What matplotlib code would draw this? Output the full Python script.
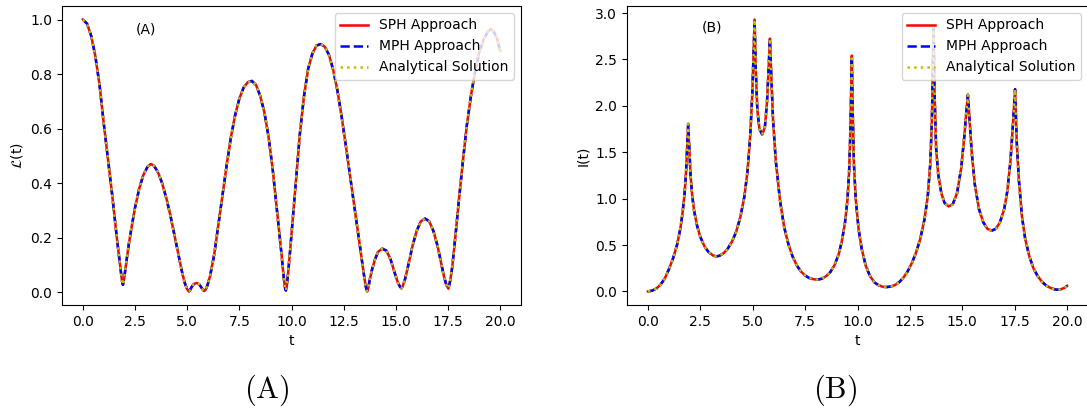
import matplotlib

matplotlib.use("Agg")
import matplotlib.pyplot as plt

# time samples (denser around the dips of the echo / spikes of the rate)
time = [
    0.0, 0.2, 0.4, 0.6, 0.8, 1.0, 1.2, 1.4, 1.55, 1.65, 1.75, 1.82, 1.87, 1.92,
    1.97, 2.03, 2.1, 2.2, 2.35, 2.5, 2.7, 2.9, 3.1, 3.25, 3.4, 3.6, 3.8, 4.0,
    4.2, 4.4, 4.6, 4.75, 4.88, 4.98, 5.05, 5.09, 5.14, 5.22, 5.32, 5.45, 5.58,
    5.68, 5.76, 5.82, 5.88, 5.97, 6.1, 6.3, 6.5, 6.7, 6.9, 7.1, 7.3, 7.5, 7.7,
    7.9, 8.1, 8.3, 8.5, 8.7, 8.9, 9.1, 9.25, 9.4, 9.52, 9.6, 9.66, 9.7, 9.73,
    9.77, 9.83, 9.92, 10.05, 10.2, 10.4, 10.6, 10.8, 11.0, 11.2, 11.4, 11.6,
    11.8, 12.0, 12.2, 12.4, 12.6, 12.8, 13.0, 13.2, 13.35, 13.47, 13.55, 13.6,
    13.63, 13.67, 13.75, 13.85, 14.0, 14.15, 14.35, 14.55, 14.75, 14.95, 15.1,
    15.2, 15.27, 15.33, 15.45, 15.6, 15.8, 16.0, 16.2, 16.4, 16.6, 16.8, 17.0,
    17.15, 17.3, 17.42, 17.52, 17.6, 17.7, 17.85, 18.0, 18.2, 18.4, 18.6, 18.8,
    19.0, 19.2, 19.4, 19.55, 19.7, 19.85, 20.0,
]

# Loschmidt echo L(t)
echo = [
    1.0, 0.985, 0.94, 0.865, 0.76, 0.62, 0.49, 0.36, 0.255, 0.185, 0.12, 0.075,
    0.045, 0.027, 0.045, 0.08, 0.12, 0.175, 0.245, 0.31, 0.38, 0.43, 0.46, 0.47,
    0.465, 0.44, 0.40, 0.345, 0.28, 0.205, 0.13, 0.075, 0.035, 0.014, 0.005,
    0.0029, 0.008, 0.02, 0.03, 0.034, 0.029, 0.017, 0.008, 0.0043, 0.009, 0.025,
    0.06, 0.14, 0.25, 0.36, 0.47, 0.57, 0.65, 0.71, 0.75, 0.77, 0.775, 0.76,
    0.72, 0.66, 0.57, 0.45, 0.34, 0.23, 0.14, 0.075, 0.032, 0.012, 0.0062, 0.02,
    0.065, 0.14, 0.26, 0.40, 0.58, 0.72, 0.82, 0.875, 0.905, 0.91, 0.90, 0.87,
    0.815, 0.74, 0.645, 0.54, 0.43, 0.32, 0.21, 0.13, 0.065, 0.025, 0.007,
    0.0033, 0.012, 0.045, 0.08, 0.12, 0.148, 0.16, 0.152, 0.12, 0.07, 0.035,
    0.02, 0.0144, 0.022, 0.05, 0.10, 0.17, 0.225, 0.26, 0.27, 0.26, 0.225, 0.17,
    0.115, 0.06, 0.027, 0.0128, 0.04, 0.09, 0.20, 0.32, 0.47, 0.61, 0.72, 0.81,
    0.88, 0.925, 0.955, 0.965, 0.955, 0.93, 0.887,
]

# rate function I(t)
rate = [
    0.0, 0.008, 0.031, 0.073, 0.137, 0.239, 0.357, 0.511, 0.683, 0.844, 1.060,
    1.295, 1.551, 1.806, 1.551, 1.263, 1.060, 0.871, 0.703, 0.586, 0.484, 0.422,
    0.388, 0.378, 0.383, 0.410, 0.458, 0.532, 0.637, 0.792, 1.020, 1.295, 1.676,
    2.134, 2.649, 2.93, 2.414, 1.956, 1.753, 1.691, 1.770, 2.037, 2.414, 2.725,
    2.355, 1.844, 1.407, 0.983, 0.693, 0.511, 0.378, 0.281, 0.215, 0.171, 0.144,
    0.131, 0.127, 0.137, 0.164, 0.208, 0.281, 0.399, 0.539, 0.735, 0.983, 1.295,
    1.721, 2.211, 2.542, 1.956, 1.367, 0.983, 0.674, 0.458, 0.272, 0.164, 0.099,
    0.067, 0.050, 0.047, 0.053, 0.070, 0.102, 0.151, 0.219, 0.308, 0.422, 0.570,
    0.780, 1.020, 1.367, 1.844, 2.481, 2.857, 2.211, 1.551, 1.263, 1.060, 0.955,
    0.916, 0.942, 1.060, 1.330, 1.676, 1.956, 2.120, 1.908, 1.498, 1.151, 0.886,
    0.746, 0.674, 0.655, 0.674, 0.746, 0.886, 1.081, 1.407, 1.806, 2.179, 1.609,
    1.204, 0.805, 0.570, 0.378, 0.247, 0.164, 0.105, 0.064, 0.039, 0.023, 0.018,
    0.023, 0.036, 0.060,
]

series_labels = ["SPH Approach", "MPH Approach", "Analytical Solution"]
series_styles = ["r-", "b--", "y:"]

fig = plt.figure(figsize=(10.87, 4.12), dpi=100)
ax_echo = fig.add_axes([62 / 1087, 107 / 412, 459 / 1087, 299 / 412])
ax_rate = fig.add_axes([627 / 1087, 107 / 412, 461 / 1087, 299 / 412])

for label, style in zip(series_labels, series_styles):
    ax_echo.plot(time, echo, style, label=label, linewidth=1.8)
    ax_rate.plot(time, rate, style, label=label, linewidth=1.8)

ax_echo.set_xlabel("t")
ax_echo.set_ylabel(r"$\mathcal{L}$(t)")
ax_echo.text(3.0, 0.965, "(A)", ha="center", va="center", fontsize=10)
ax_echo.legend(loc="upper right")

ax_rate.set_xlabel("t")
ax_rate.set_ylabel("I(t)")
ax_rate.text(3.05, 2.84, "(B)", ha="center", va="center", fontsize=10)
ax_rate.legend(loc="upper right")

fig.text(267 / 1087, 1 - 390 / 412, r"$(\mathrm{A})$", ha="center", va="center",
         fontsize=22, math_fontfamily="cm")
fig.text(835 / 1087, 1 - 390 / 412, r"$(\mathrm{B})$", ha="center", va="center",
         fontsize=22, math_fontfamily="cm")

fig.savefig("out.png", dpi=100)
